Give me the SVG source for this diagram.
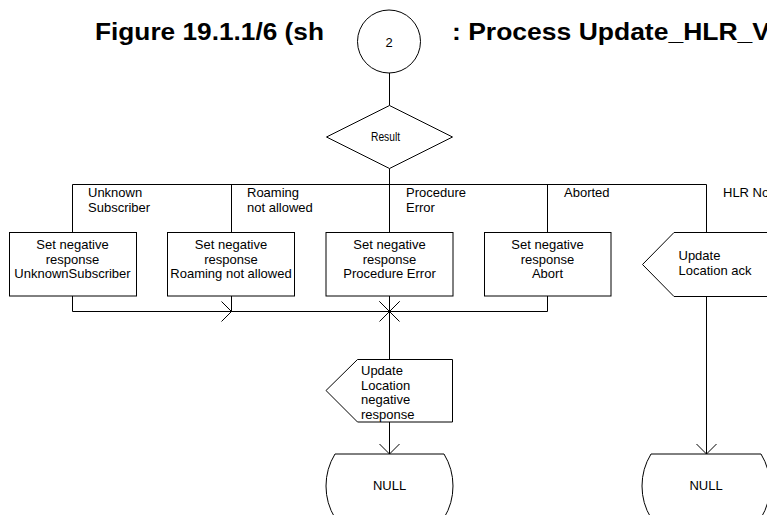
<svg xmlns="http://www.w3.org/2000/svg" width="767" height="515" viewBox="0 0 767 515">
<style>
.s{fill:#fff;stroke:#000;stroke-width:1}
.c{fill:none;stroke:#000;stroke-width:1}
.t{font-family:"Liberation Sans",Arial,sans-serif;font-size:13px;fill:#000}
.m{text-anchor:middle}
.h{font-family:"Liberation Sans",Arial,sans-serif;font-size:23px;font-weight:bold;fill:#000}
</style>
<defs>
<marker id="arr" markerUnits="userSpaceOnUse" markerWidth="14" markerHeight="24" refX="11" refY="11" orient="auto" overflow="visible">
<path d="M1,1 L11,11 L1,21" fill="none" stroke="#000" stroke-width="1"/>
</marker>
</defs>
<rect width="767" height="515" fill="#fff"/>
<g id="title">
<text class="h" x="95" y="40" textLength="229" lengthAdjust="spacingAndGlyphs">Figure 19.1.1/6 (sh</text>
<text class="h" x="452" y="40" textLength="318" lengthAdjust="spacingAndGlyphs">: Process Update_HLR_V</text>
</g>
<g id="connectors">
<path class="c" d="M389.5,73 V105.5"/>
<path class="c" d="M389.5,168.5 V232.5"/>
<path class="c" d="M72.5,232.5 V184.5 H706.5 V232.5"/>
<path class="c" d="M231.5,184.5 V232.5"/>
<path class="c" d="M547.5,184.5 V232.5"/>
<path class="c" d="M72.5,296 V311.5 H231.5" marker-end="url(#arr)"/>
<path class="c" d="M231.5,296 V311.5 H389.5" stroke-width="1.5" marker-end="url(#arr)"/>
<path class="c" d="M389.5,296 V311.5" marker-end="url(#arr)"/>
<path class="c" d="M547.5,296 V311.5 H389.5" marker-end="url(#arr)"/>
<path class="c" d="M389.5,311.5 V359.5" stroke-width="1.3"/>
<path class="c" d="M389.5,422 V454" marker-end="url(#arr)"/>
<path class="c" d="M706.5,296.5 V454" marker-end="url(#arr)"/>
</g>
<g id="start2">
<circle class="s" cx="389" cy="41.5" r="31.5"/>
<text class="t m" x="389" y="46.5">2</text>
</g>
<g id="result">
<polygon class="s" points="389.5,105.5 452.5,137 389.5,168.5 326.5,137"/>
<text class="t" x="371" y="141" font-size="12" textLength="29" lengthAdjust="spacingAndGlyphs">Result</text>
</g>
<g id="labels">
<text class="t" x="88" y="197">Unknown</text>
<text class="t" x="88" y="211.5">Subscriber</text>
<text class="t" x="247" y="197">Roaming</text>
<text class="t" x="247" y="211.5">not allowed</text>
<text class="t" x="406" y="197">Procedure</text>
<text class="t" x="406" y="211.5">Error</text>
<text class="t" x="564" y="197">Aborted</text>
<text class="t" x="723" y="197">HLR No</text>
</g>
<g id="box1">
<rect class="s" x="9.5" y="232.5" width="127" height="63.5"/>
<text class="t m" x="72.5" y="249">Set negative</text>
<text class="t m" x="72.5" y="263.5">response</text>
<text class="t m" x="72.5" y="278">UnknownSubscriber</text>
</g>
<g id="box2">
<rect class="s" x="167.5" y="232.5" width="127" height="63.5"/>
<text class="t m" x="231" y="249">Set negative</text>
<text class="t m" x="231" y="263.5">response</text>
<text class="t m" x="231" y="278">Roaming not allowed</text>
</g>
<g id="box3">
<rect class="s" x="326" y="232.5" width="127" height="63.5"/>
<text class="t m" x="389.5" y="249">Set negative</text>
<text class="t m" x="389.5" y="263.5">response</text>
<text class="t m" x="389.5" y="278">Procedure Error</text>
</g>
<g id="box4">
<rect class="s" x="484.5" y="232.5" width="126.5" height="63.5"/>
<text class="t m" x="547.5" y="249">Set negative</text>
<text class="t m" x="547.5" y="263.5">response</text>
<text class="t m" x="547.5" y="278">Abort</text>
</g>
<g id="ack">
<polygon class="s" points="674,232.5 800,232.5 800,296.5 674,296.5 642.5,264.5"/>
<text class="t" x="678.5" y="260">Update</text>
<text class="t" x="678.5" y="274.5">Location ack</text>
</g>
<g id="negresp">
<polygon class="s" points="357.5,359.5 452.5,359.5 452.5,422 357.5,422 326,390.5"/>
<text class="t" x="361" y="375">Update</text>
<text class="t" x="361" y="389.5">Location</text>
<text class="t" x="361" y="404">negative</text>
<text class="t" x="361" y="418.5">response</text>
</g>
<g id="null1">
<path class="s" d="M335,454 H444 A61.4,61.4 0 0 1 444,518 H335 A61.4,61.4 0 0 1 335,454 Z"/>
<text class="t m" x="389.5" y="490">NULL</text>
</g>
<g id="null2">
<path class="s" d="M651,454 H761 A61.4,61.4 0 0 1 761,518 H651 A61.4,61.4 0 0 1 651,454 Z"/>
<text class="t m" x="706" y="490">NULL</text>
</g>
</svg>
